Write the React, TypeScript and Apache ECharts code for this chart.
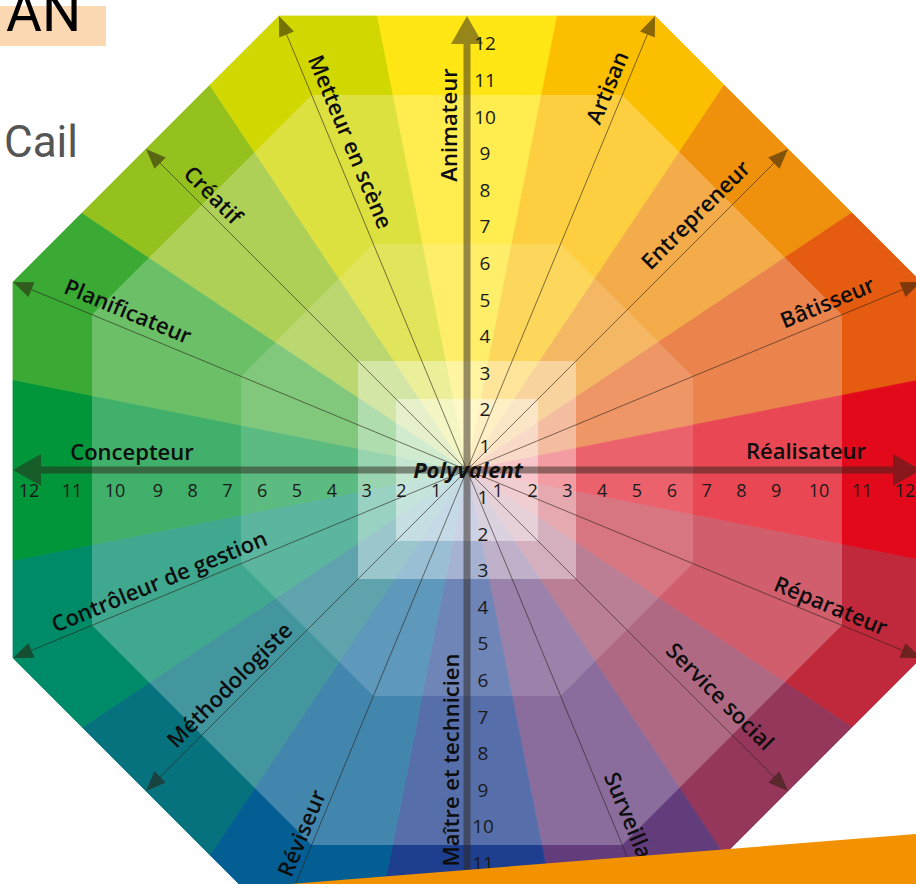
import React, { useEffect, useRef } from 'react';
import * as echarts from 'echarts';

// ---------- data ----------
const profileNames = [
  'Animateur', 'Artisan', 'Entrepreneur', 'Bâtisseur', 'Réalisateur', 'Réparateur',
  'Service social', 'Surveillant', 'Maître et technicien', 'Réviseur', 'Méthodologiste',
  'Contrôleur de gestion', 'Concepteur', 'Planificateur', 'Créatif', 'Metteur en scène',
];
const profileColors = [
  '#FFE614', '#FCBF00', '#EF910C', '#E55B10', '#E20A1A', '#C0283B',
  '#94375A', '#633C7C', '#1E3F8F', '#035E93', '#05727E',
  '#008B68', '#009639', '#3AAA35', '#95C11F', '#D1D700',
];
const tickValues = [1, 2, 3, 4, 5, 6, 7, 8, 9, 10, 11, 12];
const centerLabel = 'Polyvalent';
const titleText = 'AN';
const subtitleText = 'Cail';

// ---------- layout ----------
const CX = 467;
const CY = 470;
const W = 916;
const H = 884;
const APOTHEM = 454;
const BAND_APOTHEMS = [375, 226];
const SQUARE_HALVES = [109, 71];
const OVERLAY_ALPHAS = [0.25, 0.15, 0.375, 0.425];
const LABEL_ALONG = [345, 407, 342, 397, 339, 388, 339, 392, 290, 399, 320, 327, 335, 374, 374, 348];
const LABEL_OFFSET = [19, 18, 20, 18, 20, 15, 20, 18, 17, 15, 17, 16, 19, 18, 16, 19];
const FONT = '"Open Sans", "Noto Sans", sans-serif';

const rad = (d: number) => (d * Math.PI) / 180;
const axisAngle = (i: number) => 90 - 22.5 * i;
function octPoint(phi: number, a: number): number[] {
  const n = Math.round(phi / 45) * 45;
  const r = a / Math.cos(rad(phi - n));
  return [r * Math.cos(rad(phi)), r * Math.sin(rad(phi))];
}
function octagon(a: number): number[][] {
  const pts: number[][] = [];
  for (let k = 0; k < 8; k++) pts.push(octPoint(22.5 + 45 * k, a));
  return pts;
}
const hTickPos = (v: number) => (v <= 9 ? 34.8 * v - 4 : 309 + (v - 9) * 43);
const upTickPos = (v: number) => 24 + 36.6 * (v - 1);
const downTickPos = (v: number) => 27 + 36.6 * (v - 1);

export default function App() {
  const ref = useRef<HTMLDivElement>(null);
  useEffect(() => {
    if (!ref.current) return;
    const chart = echarts.init(ref.current, undefined, { renderer: 'svg' });
    const idx = profileNames.map((_, i) => [i]);

    const option: any = {
      animation: false,
      grid: { left: 0, right: 0, top: 0, bottom: 0 },
      xAxis: { type: 'value', min: -CX, max: W - CX, show: false },
      yAxis: { type: 'value', min: -(H - CY), max: CY, show: false },
      series: [
        // wedges
        {
          type: 'custom', coordinateSystem: 'cartesian2d', silent: true, data: idx, z: 1,
          renderItem: (params: any, api: any) => {
            const i = params.dataIndex;
            const th = axisAngle(i);
            const pts = [[0, 0], octPoint(th - 11.25, APOTHEM)];
            if (i % 2 === 1) pts.push(octPoint(th, APOTHEM));
            pts.push(octPoint(th + 11.25, APOTHEM));
            return {
              type: 'polygon',
              shape: { points: pts.map((p) => api.coord(p)) },
              style: { fill: profileColors[i], stroke: profileColors[i], lineWidth: 0.8 },
            };
          },
        },
        // white overlays
        {
          type: 'custom', coordinateSystem: 'cartesian2d', silent: true, data: [[0]], z: 2,
          renderItem: (params: any, api: any) => {
            const children: any[] = [];
            BAND_APOTHEMS.forEach((a, k) => {
              children.push({
                type: 'polygon',
                shape: { points: octagon(a).map((p) => api.coord(p)) },
                style: { fill: '#ffffff', opacity: OVERLAY_ALPHAS[k] },
              });
            });
            SQUARE_HALVES.forEach((h, k) => {
              const tl = api.coord([-h, h]);
              const br = api.coord([h, -h]);
              children.push({
                type: 'rect',
                shape: { x: tl[0], y: tl[1], width: br[0] - tl[0], height: br[1] - tl[1] },
                style: { fill: '#ffffff', opacity: OVERLAY_ALPHAS[2 + k] },
              });
            });
            return { type: 'group', children };
          },
        },
        // thin arrows
        {
          type: 'custom', coordinateSystem: 'cartesian2d', silent: true, data: idx, z: 3,
          renderItem: (params: any, api: any) => {
            const i = params.dataIndex;
            const th = axisAngle(i);
            if (i % 4 === 0) return { type: 'group', children: [] };
            const tip = octPoint(th, APOTHEM);
            const d = [Math.cos(rad(th)), Math.sin(rad(th))];
            const nv = [-d[1], d[0]];
            const L = 20, HW = 8;
            const base = [tip[0] - L * d[0], tip[1] - L * d[1]];
            const p0 = api.coord([0, 0]);
            const pb = api.coord(base);
            return {
              type: 'group',
              children: [
                {
                  type: 'line',
                  shape: { x1: p0[0], y1: p0[1], x2: pb[0], y2: pb[1] },
                  style: { stroke: 'rgba(40,32,24,0.6)', lineWidth: 1 },
                },
                {
                  type: 'polygon',
                  shape: {
                    points: [
                      api.coord(tip),
                      api.coord([base[0] + HW * nv[0], base[1] + HW * nv[1]]),
                      api.coord([base[0] - HW * nv[0], base[1] - HW * nv[1]]),
                    ],
                  },
                  style: { fill: 'rgba(40,30,10,0.55)' },
                },
              ],
            };
          },
        },
        // main axes
        {
          type: 'custom', coordinateSystem: 'cartesian2d', silent: true, data: [[0], [1]], z: 4,
          renderItem: (params: any, api: any) => {
            const vertical = params.dataIndex === 1;
            const T = APOTHEM, B = APOTHEM - 28, HW = 16, SW = 3.5;
            let pts = [
              [-T, 0], [-B, HW], [-B, SW], [B, SW], [B, HW], [T, 0], [B, -HW], [B, -SW], [-B, -SW], [-B, -HW],
            ];
            if (vertical) pts = pts.map((p) => [p[1], p[0]]);
            return {
              type: 'polygon',
              shape: { points: pts.map((p) => api.coord(p)) },
              style: { fill: 'rgba(45,36,28,0.5)' },
            };
          },
        },
        // profile labels
        {
          type: 'custom', coordinateSystem: 'cartesian2d', silent: true, data: idx, z: 5,
          renderItem: (params: any, api: any) => {
            const i = params.dataIndex;
            const th = axisAngle(i);
            let rho = th;
            while (rho > 90) rho -= 180;
            while (rho <= -90) rho += 180;
            const d = [Math.cos(rad(th)), Math.sin(rad(th))];
            const up = [-Math.sin(rad(rho)), Math.cos(rad(rho))];
            const a = LABEL_ALONG[i], o = LABEL_OFFSET[i];
            const p = api.coord([a * d[0] + o * up[0], a * d[1] + o * up[1]]);
            return {
              type: 'text',
              x: p[0], y: p[1], rotation: rad(rho),
              style: {
                text: profileNames[i], fill: '#0d0d0d', fontFamily: FONT, fontWeight: 600, fontSize: 22,
                align: 'center', verticalAlign: 'middle',
              },
            };
          },
        },
        // tick labels
        {
          type: 'custom', coordinateSystem: 'cartesian2d', silent: true, data: tickValues.map((v) => [v]), z: 6,
          renderItem: (params: any, api: any) => {
            const v = tickValues[params.dataIndex];
            const mk = (pt: number[], size: number) => {
              const p = api.coord(pt);
              return {
                type: 'text', x: p[0], y: p[1],
                style: {
                  text: String(v), fill: '#1a1a1a', fontFamily: FONT, fontSize: size,
                  align: 'center', verticalAlign: 'middle',
                },
              };
            };
            return {
              type: 'group',
              children: [
                mk([hTickPos(v), -20], 18),
                mk([-hTickPos(v), -20], 18),
                mk([18, upTickPos(v)], 19),
                mk([16, -downTickPos(v)], 19),
              ],
            };
          },
        },
        // center label
        {
          type: 'custom', coordinateSystem: 'cartesian2d', silent: true, data: [[0]], z: 7,
          renderItem: (params: any, api: any) => {
            const p = api.coord([1, 1]);
            return {
              type: 'text', x: p[0], y: p[1],
              style: {
                text: centerLabel, fill: '#111111', fontFamily: FONT, fontWeight: 700, fontStyle: 'italic',
                fontSize: 22, align: 'center', verticalAlign: 'middle',
              },
            };
          },
        },
      ],
      graphic: [
        {
          type: 'polygon', z: 100,
          shape: { points: [[250, 887.2], [916, 834], [916, 890], [250, 890]] },
          style: { fill: '#F29200' },
        },
        {
          type: 'rect', z: 100, shape: { x: 0, y: 6, width: 106, height: 40 },
          style: { fill: '#FBD8B2' },
        },
        {
          type: 'text', z: 101, x: 6, y: 12,
          style: {
            text: titleText, fill: '#000000', fontFamily: 'Roboto, sans-serif', fontSize: 55,
            align: 'left', verticalAlign: 'middle',
          },
        },
        {
          type: 'text', z: 101, x: 4, y: 142,
          style: {
            text: subtitleText, fill: '#555555', fontFamily: 'Roboto, sans-serif', fontSize: 44,
            align: 'left', verticalAlign: 'middle',
          },
        },
      ],
    };
    chart.setOption(option);
    return () => chart.dispose();
  }, []);
  return (
    <div
      ref={ref}
      style={{ position: 'absolute', left: 0, top: 0, width: W, height: H, background: '#ffffff' }}
    />
  );
}
